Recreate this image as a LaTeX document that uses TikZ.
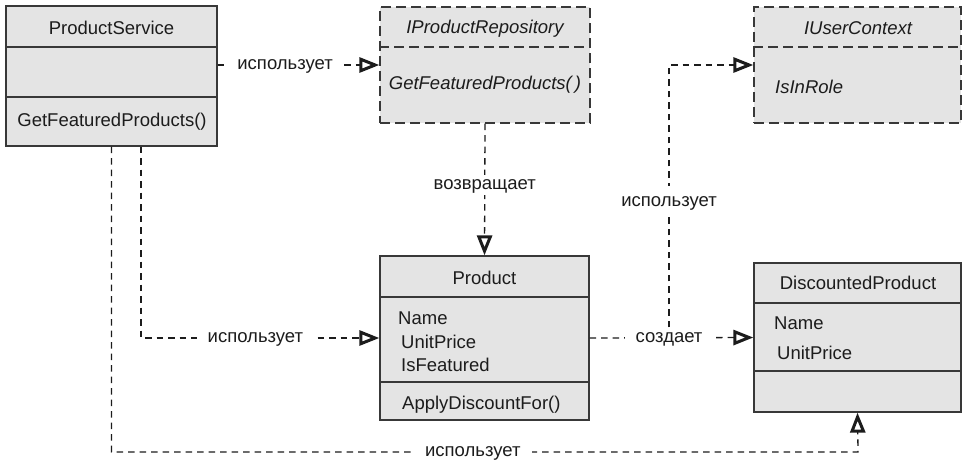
\documentclass[tikz,border=0pt]{standalone}
\usepackage{fontspec}
\setmainfont{Liberation Sans}
\usetikzlibrary{arrows.meta}
\definecolor{boxfill}{HTML}{E4E4E4}
\definecolor{edge}{HTML}{383838}
\definecolor{ink}{HTML}{1C1C1C}
\tikzset{
  opentip/.tip={Triangle[open, length=20pt, width=15pt, line width=3pt]},
}
\begin{document}
\begin{tikzpicture}[x=1pt, y=-1pt,
  font=\fontsize{18.5}{22}\selectfont, text=ink,
  cls/.style={draw=edge, line width=1.3pt, fill=boxfill, inner sep=0pt},
  iface/.style={cls, dash pattern=on 10pt off 5pt},
  divider/.style={draw=edge, line width=1.3pt},
  idivider/.style={divider, dash pattern=on 10pt off 5pt},
  txt/.style={inner sep=0pt, text height=13.2pt, text depth=0pt},
  mem/.style={txt, anchor=west},
  rel/.style={draw=ink, line width=1.3pt, dash pattern=on 6.5pt off 5pt, arrows={-opentip}},
  lbl/.style={fill=white, inner xsep=11pt, inner ysep=5pt, text height=9.5pt, text depth=0pt}]
\useasboundingbox (0,0) rectangle (963,460);

% ProductService
\node[cls, minimum width=211pt, minimum height=140pt] (ps) at (111.5,76) {};
\draw[divider] (ps.west |- 0,47) -- (ps.east |- 0,47);
\draw[divider] (ps.west |- 0,97) -- (ps.east |- 0,97);
\node[txt] (psname) at (111.5,28) {ProductService};
\node[txt] (psop) at (112,120) {GetFeaturedProducts()};

% IProductRepository
\node[iface, minimum width=210pt, minimum height=116pt] (repo) at (485,65) {};
\draw[idivider] (repo.west |- 0,47) -- (repo.east |- 0,47);
\node[txt, font=\fontsize{18.5}{22}\selectfont\itshape] (reponame) at (485,27) {IProductRepository};
\node[txt, font=\fontsize{18.5}{22}\selectfont\itshape] (repoop) at (485,83) {GetFeaturedProducts(\,)};

% IUserContext
\node[iface, minimum width=207pt, minimum height=116pt] (uc) at (857.5,65) {};
\draw[idivider] (uc.west |- 0,47) -- (uc.east |- 0,47);
\node[txt, font=\fontsize{18.5}{22}\selectfont\itshape] (ucname) at (858,27.5) {IUserContext};
\node[mem, font=\fontsize{18.5}{22}\selectfont\itshape] (ucop) at (775,86.5) {IsInRole};

% Product
\node[cls, minimum width=209pt, minimum height=164pt] (prod) at (484.5,338) {};
\draw[divider] (prod.west |- 0,297) -- (prod.east |- 0,297);
\draw[divider] (prod.west |- 0,382) -- (prod.east |- 0,382);
\node[txt] (prodname) at (484.5,278) {Product};
\node[mem] (prodf1) at (398,318) {Name};
\node[mem] (prodf2) at (401,341.5) {UnitPrice};
\node[mem] (prodf3) at (401,365) {IsFeatured};
\node[mem] (prodop) at (402,403) {ApplyDiscountFor()};

% DiscountedProduct
\node[cls, minimum width=207pt, minimum height=149pt] (dp) at (857.5,337.5) {};
\draw[divider] (dp.west |- 0,303) -- (dp.east |- 0,303);
\draw[divider] (dp.west |- 0,371) -- (dp.east |- 0,371);
\node[txt] (dpname) at (858,283) {DiscountedProduct};
\node[mem] (dpf1) at (774,322.5) {Name};
\node[mem] (dpf2) at (777,352.5) {UnitPrice};

% relations
\coordinate (psright) at (ps.east |- repo.west);
\coordinate (psleg) at ([xshift=29.5pt]ps.south);
\coordinate (low) at (858,452);

\draw[rel] (psright) -- node[lbl, pos=0.417] (l1) {использует} (repo.west);
\draw[rel] (repo.south) -- node[lbl, pos=0.466] (l2) {возвращает} (prod.north);
\draw[rel] (psleg) |- node[lbl, pos=0.74] (l4) {использует} (prod.west);
\draw[rel] (prod.east) -- node[lbl, pos=0.485] (l5) {создает} (dp.west);
\draw[rel] (l5.north) |- node[lbl, inner ysep=11pt, pos=0.24] (l3) {использует} (uc.west);
\draw[rel] (ps.south) |- node[lbl, pos=0.742] (l6) {использует} (low) -- (dp.south);
\end{tikzpicture}
\end{document}
